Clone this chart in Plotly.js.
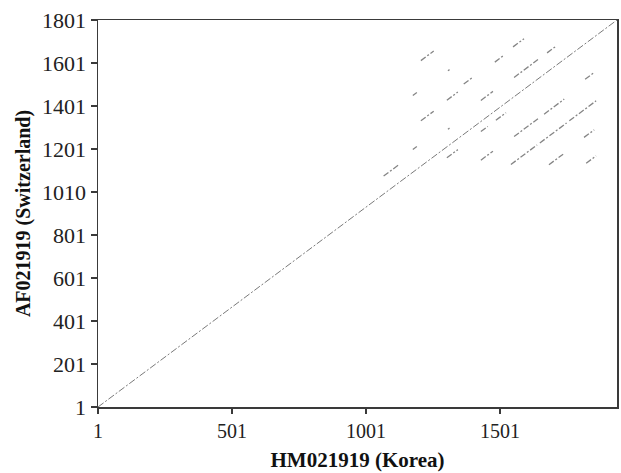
<!DOCTYPE html>
<html>
<head>
<meta charset="utf-8">
<script src="https://cdn.plot.ly/plotly-3.0.1.min.js"></script>
<style>html,body{margin:0;padding:0;background:#fff;}#chart{width:621px;height:473px;}</style>
</head>
<body>
<div id="chart"></div>
<script>
// Sequence lengths (axis extents)
const xLength = 1938;
const yLength = 1801;

// Tick labels
const xTickVals = [1, 501, 1001, 1501];
const xTickText = ["1", "501", "1001", "1501"];
const yTickVals = [1, 201, 401, 601, 801, 1001, 1201, 1401, 1601, 1801];
const yTickText = ["1", "201", "401", "601", "801", "1010", "1201", "1401", "1601", "1801"];

// Main diagonal (identity match) endpoints
const diagX = [1, 1938];
const diagY = [1, 1801];

// Off-diagonal repeat-match segments (start/end positions)
const segX0 = [1067, 1176, 1176, 1206, 1206, 1307, 1307, 1303, 1303, 1366, 1430, 1430, 1430, 1482, 1486, 1550, 1554, 1677, 1819, 1554, 1666, 1542, 1650, 1760, 1815, 1684, 1823];
const segX1 = [1123, 1191, 1191, 1254, 1254, 1313, 1313, 1344, 1344, 1400, 1456, 1475, 1475, 1516, 1524, 1591, 1643, 1707, 1853, 1643, 1741, 1640, 1750, 1860, 1853, 1737, 1860];
const segY0 = [1075, 1450, 1199, 1612, 1332, 1565, 1293, 1428, 1160, 1503, 1282, 1427, 1149, 1605, 1335, 1676, 1534, 1648, 1525, 1259, 1363, 1129, 1229, 1332, 1255, 1128, 1135];
const segY1 = [1127, 1464, 1213, 1657, 1377, 1570, 1298, 1466, 1198, 1535, 1306, 1469, 1191, 1637, 1370, 1714, 1617, 1676, 1557, 1342, 1433, 1220, 1322, 1425, 1290, 1177, 1169];

const sx = [], sy = [];
for (let i = 0; i < segX0.length; i++) {
  sx.push(segX0[i], segX1[i], null);
  sy.push(segY0[i], segY1[i], null);
}

const traces = [
  {
    x: diagX, y: diagY, mode: 'lines', type: 'scatter', hoverinfo: 'skip',
    line: {color: '#7a7a7a', width: 1, dash: '7px,2px,2px,2px'}
  },
  {
    x: sx, y: sy, mode: 'lines', type: 'scatter', hoverinfo: 'skip', connectgaps: false,
    line: {color: '#858585', width: 1.3, dash: '6px,2px,2px,2px'}
  }
];

const serif = '"Liberation Serif", "DejaVu Serif", serif';

const layout = {
  width: 621, height: 473,
  margin: {l: 98, r: 4, t: 20, b: 66},
  paper_bgcolor: '#fff', plot_bgcolor: '#fff',
  showlegend: false,
  xaxis: {
    range: [1, xLength], showgrid: false, zeroline: false,
    showline: true, mirror: true, linecolor: '#3a3a3a', linewidth: 1.5,
    ticks: 'outside', ticklen: 5, tickwidth: 1.5, tickcolor: '#3a3a3a',
    tickvals: xTickVals, ticktext: xTickText,
    tickfont: {family: serif, size: 20, color: '#222'},
    title: {text: 'HM021919 (Korea)', font: {family: serif, size: 21, color: '#111', weight: 'bold'}, standoff: 12}
  },
  yaxis: {
    range: [1, yLength], showgrid: false, zeroline: false,
    showline: true, mirror: true, linecolor: '#3a3a3a', linewidth: 1.5,
    ticks: 'outside', ticklen: 6, tickwidth: 1.5, tickcolor: '#3a3a3a',
    tickvals: yTickVals, ticktext: yTickText,
    tickfont: {family: serif, size: 22, color: '#222'},
    title: {text: 'AF021919 (Switzerland)', font: {family: serif, size: 20, color: '#111', weight: 'bold'}, standoff: 6}
  }
};

Plotly.newPlot('chart', traces, layout, {staticPlot: true, displayModeBar: false});
</script>
</body>
</html>
